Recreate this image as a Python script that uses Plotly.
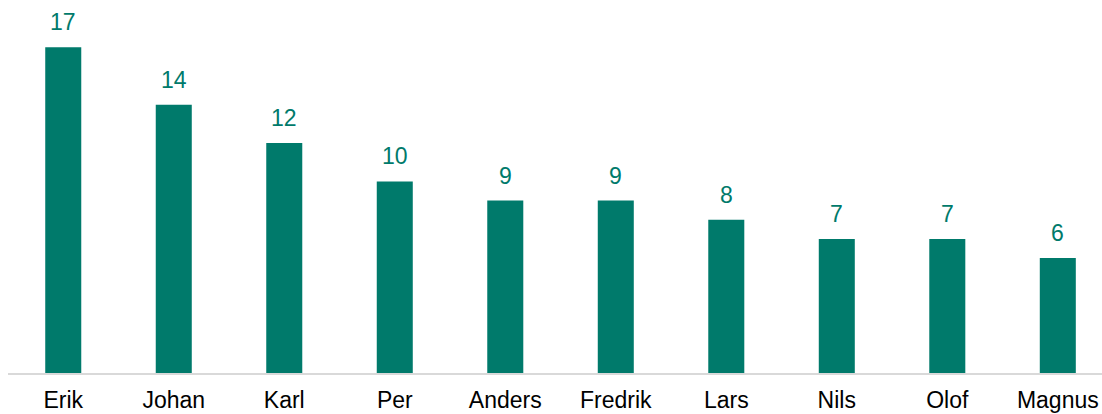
import plotly.graph_objects as go

names = ["Erik", "Johan", "Karl", "Per", "Anders", "Fredrik", "Lars", "Nils", "Olof", "Magnus"]
counts = [17, 14, 12, 10, 9, 9, 8, 7, 7, 6]

teal = "#007A6B"

fig = go.Figure(go.Bar(
    x=names,
    y=counts,
    marker=dict(color=teal, line=dict(width=0)),
    hoverinfo="x+y",
))

# value labels above bars
for n, c in zip(names, counts):
    fig.add_annotation(
        x=n, y=c, text=str(c), showarrow=False,
        yanchor="bottom", yshift=10,
        font=dict(family="Liberation Sans, Arial", size=23, color=teal),
    )

fig.update_layout(
    width=1102, height=414,
    margin=dict(l=8, r=0, t=0, b=41),
    plot_bgcolor="white", paper_bgcolor="white",
    bargap=0.674,
    showlegend=False,
    xaxis=dict(
        range=[-0.5, 9.4],
        showline=True, linecolor="#D9D9D9", linewidth=2,
        ticks="outside", ticklen=5, tickcolor="rgba(0,0,0,0)",
        tickfont=dict(family="Liberation Sans, Arial", size=23, color="black"),
        automargin=False,
    ),
    yaxis=dict(range=[0, 19.47], visible=False),
)

# drop the default page margin so the figure sits at the window's corner
fig.write_html("out.html", config={"displayModeBar": False},
               post_script="document.body.style.margin='0';")
